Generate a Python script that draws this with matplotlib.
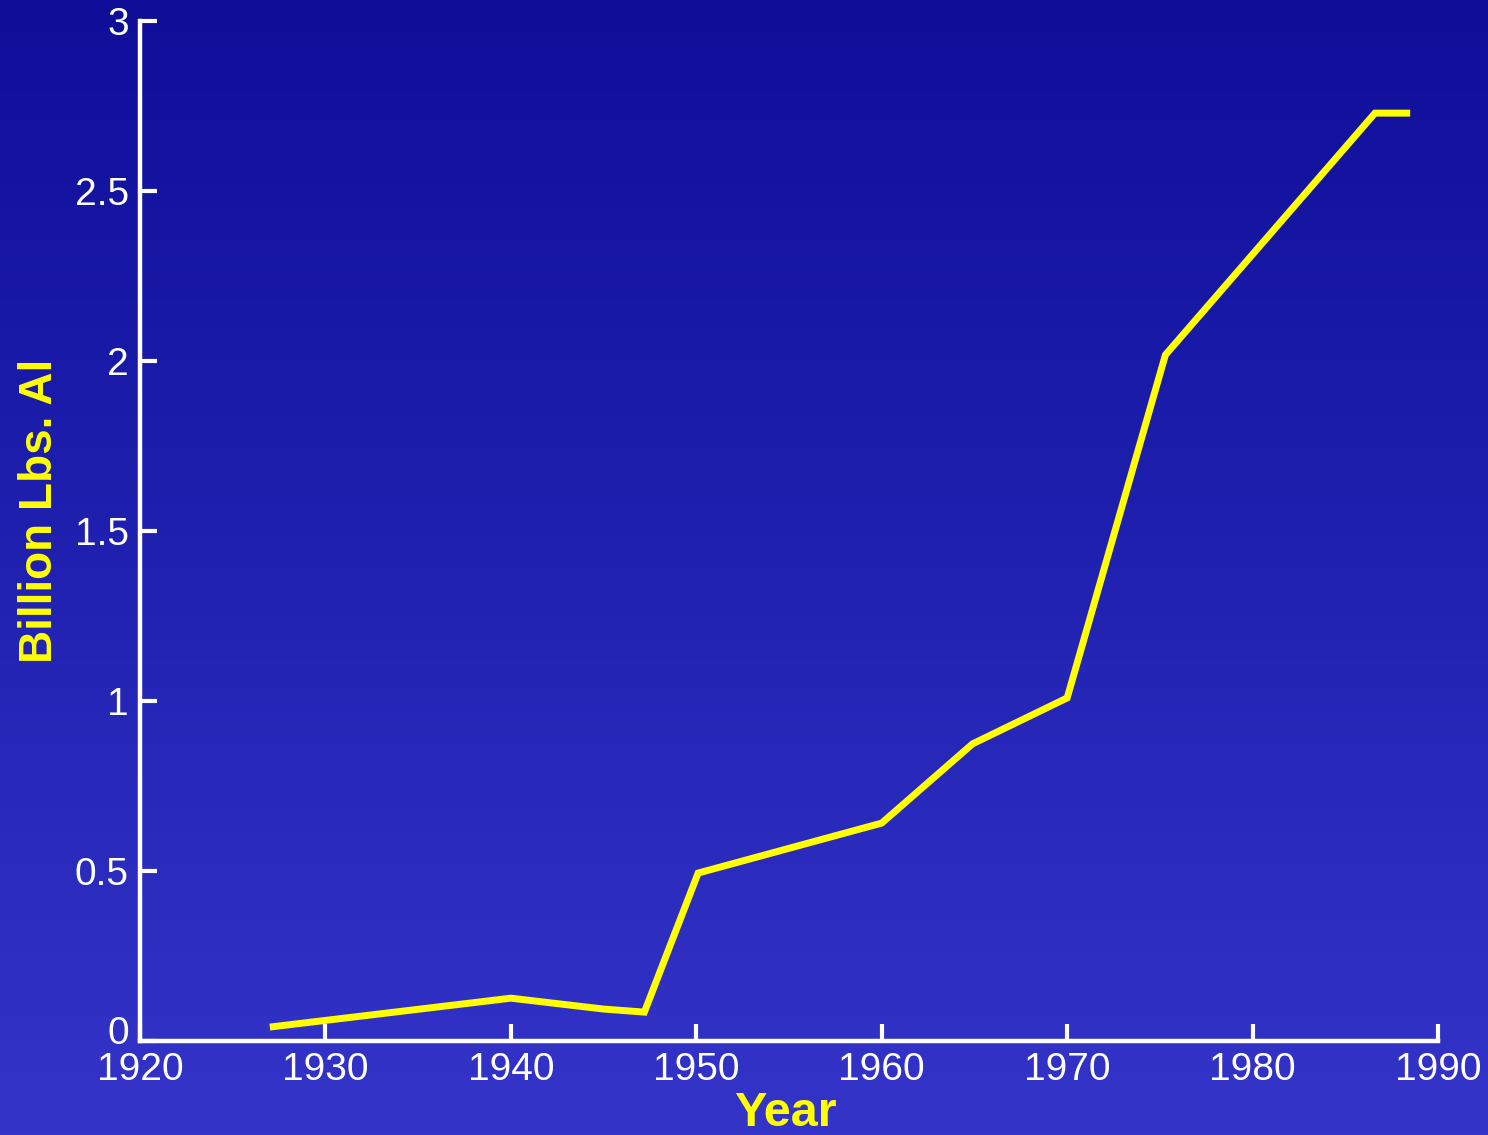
import numpy as np
import matplotlib
matplotlib.use("Agg")
import matplotlib.pyplot as plt
import matplotlib.transforms as mtransforms

# aluminium data
years = [1927.0, 1940.0, 1945.0, 1947.2, 1950.1, 1960.0, 1964.9, 1970.0, 1975.3, 1986.6, 1988.5]
billion_lbs = [0.041, 0.126, 0.094, 0.085, 0.494, 0.641, 0.874, 1.009, 2.018, 2.729, 2.729]
x_ticks = [1920, 1930, 1940, 1950, 1960, 1970, 1980, 1990]
y_ticks = [0, 0.5, 1, 1.5, 2, 2.5, 3]
y_tick_labels = ["0", "0.5", "1", "1.5", "2", "2.5", "3"]

plt.rcParams["font.family"] = ["Liberation Sans", "DejaVu Sans"]

fig = plt.figure(figsize=(14.88, 11.35), dpi=100)

# gradient background, dark blue at top to lighter blue at bottom
bg = fig.add_axes([0, 0, 1, 1], zorder=-1)
top = np.array([0x0e, 0x0e, 0x99]) / 255
bottom = np.array([0x34, 0x34, 0xc9]) / 255
t = np.linspace(0, 1, 256)[:, None]
grad = top * (1 - t) + bottom * t
bg.imshow(grad[:, None, :], aspect="auto", extent=[0, 1, 0, 1])
bg.axis("off")

ax = fig.add_axes([0.0941, 0.0828, 0.8723, 0.8987])
ax.patch.set_alpha(0)
ax.plot(years, billion_lbs, color="#ffff00", linewidth=5, solid_joinstyle="miter",
        solid_capstyle="butt")

ax.set_xlim(1920, 1990)
ax.set_ylim(0, 3)
ax.set_xticks(x_ticks)
ax.set_yticks(y_ticks)
ax.set_yticklabels(y_tick_labels)

for side in ["top", "right"]:
    ax.spines[side].set_visible(False)
for side in ["left", "bottom"]:
    ax.spines[side].set_color("white")
    ax.spines[side].set_linewidth(3.2)

ax.tick_params(direction="in", length=12.5, width=3, colors="white",
               labelsize=28, pad=8)

# the "0" on the y axis sits a little above the x axis line
zero_lbl = ax.get_yticklabels()[0]
zero_lbl.set_transform(zero_lbl.get_transform() +
                       mtransforms.ScaledTranslation(0, 11 / 100, fig.dpi_scale_trans))

ax.set_xlabel("Year", color="#ffff00", fontsize=35, fontweight="bold")
ax.xaxis.set_label_coords(0.497, -0.049)
ax.set_ylabel("Billion Lbs. Al", color="#ffff00", fontsize=33, fontweight="bold")
ax.yaxis.set_label_coords(-0.060, 0.52)

fig.savefig("out.png", dpi=100)
